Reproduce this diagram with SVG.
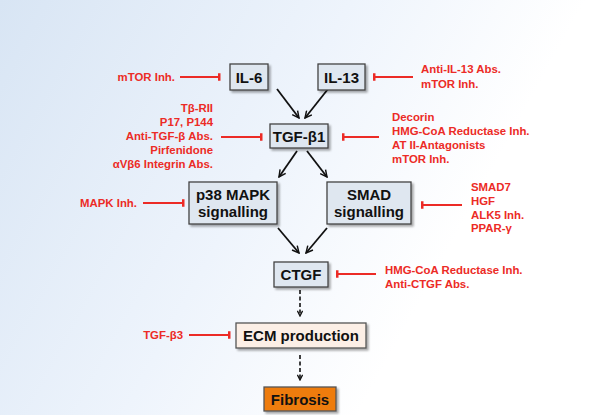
<svg xmlns="http://www.w3.org/2000/svg" width="600" height="415" viewBox="0 0 600 415">
<defs>
<linearGradient id="bg" x1="0" y1="0" x2="600" y2="330" gradientUnits="userSpaceOnUse">
<stop offset="0" stop-color="#d8e5f4"/>
<stop offset="0.45" stop-color="#eef4fc"/>
<stop offset="0.75" stop-color="#ffffff"/>
</linearGradient>
<filter id="sh" x="-20%" y="-20%" width="140%" height="150%">
<feGaussianBlur in="SourceAlpha" stdDeviation="1.2"/>
<feOffset dx="1.5" dy="2" result="b"/>
<feComponentTransfer><feFuncA type="linear" slope="0.35"/></feComponentTransfer>
<feMerge><feMergeNode/><feMergeNode in="SourceGraphic"/></feMerge>
</filter>
<marker id="ah" viewBox="0 0 10 10" refX="9" refY="5" markerWidth="8.5" markerHeight="8.5" markerUnits="userSpaceOnUse" orient="auto">
<path d="M1,1 L9,5 L1,9" fill="none" stroke="#111" stroke-width="1.7"/>
</marker>
<marker id="ahs" viewBox="0 0 10 10" refX="9" refY="5" markerWidth="6.5" markerHeight="6.5" markerUnits="userSpaceOnUse" orient="auto">
<path d="M1,1 L9,5 L1,9" fill="none" stroke="#111" stroke-width="2"/>
</marker>
<marker id="tb" viewBox="0 0 4 10" refX="2" refY="5" markerWidth="3" markerHeight="9" markerUnits="userSpaceOnUse" orient="auto">
<rect x="0" y="0" width="4" height="10" fill="#ec2b26"/>
</marker>
</defs>
<style>
.box{fill:#dfe7f0;stroke:#444;stroke-width:1.3;filter:url(#sh)}
.ecm{fill:#fcefe6;stroke:#555;stroke-width:1.3;filter:url(#sh)}
.fib{fill:#ee7c10;stroke:#555;stroke-width:1.3;filter:url(#sh)}
.nt{font-family:"Liberation Sans",Arial,sans-serif;font-weight:bold;font-size:15px;fill:#111;text-anchor:middle}
.rt{font-family:"Liberation Sans",Arial,sans-serif;font-weight:bold;font-size:11.4px;fill:#ec2b26}
.r{text-anchor:end}
.arr{stroke:#111;stroke-width:1.8;fill:none;marker-end:url(#ah)}
.dash{stroke:#111;stroke-width:1.6;fill:none;stroke-dasharray:4,2.5;marker-end:url(#ahs)}
.inh{stroke:#ec2b26;stroke-width:2;fill:none;marker-end:url(#tb)}
</style>
<rect width="600" height="415" fill="url(#bg)"/>

<g id="connectors">
<line class="arr" x1="277" y1="89" x2="299" y2="118"/>
<line class="arr" x1="328" y1="89" x2="305" y2="118"/>
<line class="arr" x1="297" y1="151" x2="279" y2="177"/>
<line class="arr" x1="307" y1="151" x2="327" y2="177"/>
<line class="arr" x1="278" y1="228" x2="299" y2="253"/>
<line class="arr" x1="327" y1="228" x2="306" y2="253"/>
<line class="dash" x1="300" y1="290" x2="300" y2="316"/>
<line class="dash" x1="300" y1="355" x2="300" y2="380"/>
<line class="inh" x1="180" y1="77" x2="219" y2="77"/>
<line class="inh" x1="413" y1="77" x2="374" y2="77"/>
<line class="inh" x1="221" y1="137" x2="261" y2="137"/>
<line class="inh" x1="379" y1="137" x2="343" y2="137"/>
<line class="inh" x1="143" y1="203" x2="183" y2="203"/>
<line class="inh" x1="462" y1="205" x2="422" y2="205"/>
<line class="inh" x1="376" y1="274" x2="337" y2="274"/>
<line class="inh" x1="189" y1="335" x2="229" y2="335"/>
</g>

<g id="IL6"><rect class="box" x="230" y="64" width="38" height="26"/><text class="nt" x="249" y="82.5">IL-6</text></g>
<g id="IL13"><rect class="box" x="318" y="64" width="47" height="26"/><text class="nt" x="341.5" y="82.5">IL-13</text></g>
<g id="TGFb1"><rect class="box" x="270" y="124" width="58" height="24"/><text class="nt" x="299" y="141.5">TGF-β1</text></g>
<g id="p38"><rect class="box" x="189" y="182" width="88" height="42"/><text class="nt" x="233" y="200">p38 MAPK</text><text class="nt" x="233" y="217">signalling</text></g>
<g id="SMAD"><rect class="box" x="327" y="182" width="84" height="42"/><text class="nt" x="369" y="200">SMAD</text><text class="nt" x="369" y="217">signalling</text></g>
<g id="CTGF"><rect class="box" x="274" y="262" width="54" height="25"/><text class="nt" x="301" y="280">CTGF</text></g>
<g id="ECM"><rect class="ecm" x="236" y="323" width="130" height="25"/><text class="nt" x="301" y="341">ECM production</text></g>
<g id="Fibrosis"><rect class="fib" x="264" y="387" width="72" height="24"/><text class="nt" x="300" y="404.5">Fibrosis</text></g>

<g id="inhibitors">
<text class="rt r" x="175" y="81">mTOR Inh.</text>
<text class="rt" x="421" y="73">Anti-IL-13 Abs.</text>
<text class="rt" x="421" y="88">mTOR Inh.</text>
<text class="rt r" x="213" y="111.5">Tβ-RII</text>
<text class="rt r" x="213" y="125.5">P17, P144</text>
<text class="rt r" x="213" y="140">Anti-TGF-β Abs.</text>
<text class="rt r" x="213" y="154">Pirfenidone</text>
<text class="rt r" x="213" y="168">αVβ6 Integrin Abs.</text>
<text class="rt" x="392" y="121">Decorin</text>
<text class="rt" x="392" y="135">HMG-CoA Reductase Inh.</text>
<text class="rt" x="392" y="149">AT II-Antagonists</text>
<text class="rt" x="392" y="162.5">mTOR Inh.</text>
<text class="rt r" x="137" y="207">MAPK Inh.</text>
<text class="rt" x="471" y="191">SMAD7</text>
<text class="rt" x="471" y="205">HGF</text>
<text class="rt" x="471" y="218.5">ALK5 Inh.</text>
<text class="rt" x="471" y="232">PPAR-γ</text>
<text class="rt" x="385" y="273.5">HMG-CoA Reductase Inh.</text>
<text class="rt" x="385" y="287.5">Anti-CTGF Abs.</text>
<text class="rt r" x="183" y="339">TGF-β3</text>
</g>
</svg>
